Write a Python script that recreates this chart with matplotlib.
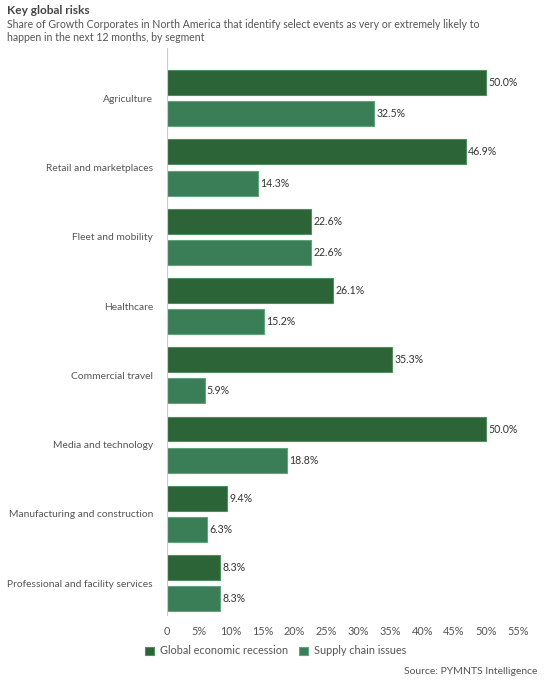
import matplotlib.pyplot as plt
import numpy as np

segments = ["Agriculture", "Retail and marketplaces", "Fleet and mobility", "Healthcare",
            "Commercial travel", "Media and technology", "Manufacturing and construction",
            "Professional and facility services"]
recession = [50.0, 46.9, 22.6, 26.1, 35.3, 50.0, 9.4, 8.3]
supply_chain = [32.5, 14.3, 22.6, 15.2, 5.9, 18.8, 6.3, 8.3]
tick_vals = [0, 5, 10, 15, 20, 25, 30, 35, 40, 45, 50, 55]
tick_labels = ["0"] + ["{}%".format(t) for t in tick_vals[1:]]

dark_green = "#2c6438"
light_green = "#3a7e58"

plt.rcParams['font.family'] = ['Lato', 'DejaVu Sans']

W, H = 552, 680
fig = plt.figure(figsize=(W / 100, H / 100), dpi=100)
fig.patch.set_facecolor("white")

# axes box in pixels: left 167, right 535, top 48, bottom 615
ax = fig.add_axes([167 / W, 1 - 615 / H, (535 - 167) / W, (615 - 48) / H])

y = np.arange(len(segments))
bh = 0.36
off = 0.225
b1 = ax.barh(y - off, recession, height=bh, color=dark_green, edgecolor="#4f8f5f", linewidth=0.8)
b2 = ax.barh(y + off, supply_chain, height=bh, color=light_green, edgecolor="#63a37c", linewidth=0.8)

for bars, vals in ((b1, recession), (b2, supply_chain)):
    for bar, v in zip(bars, vals):
        ax.annotate("{:.1f}%".format(v), (bar.get_width(), bar.get_y() + bar.get_height() / 2),
                    xytext=(1.5, 0), textcoords="offset points", va="center", ha="left",
                    fontsize=7.6, color="#333333")

ax.set_xlim(0, 57.7)
ax.set_ylim(len(segments) - 0.54, -0.725)
ax.set_xticks(tick_vals)
ax.set_xticklabels(tick_labels)
ax.set_yticks(y)
ax.set_yticklabels(segments)
ax.tick_params(axis="both", length=0, colors="#555555")
ax.tick_params(axis="y", pad=10, labelsize=7.4)
ax.tick_params(axis="x", pad=8, labelsize=7.8)
for s in ("top", "right", "bottom"):
    ax.spines[s].set_visible(False)
ax.spines["left"].set_color("#cccccc")
ax.spines["left"].set_linewidth(0.8)

fig.text(7 / W, 1 - 11 / H, "Key global risks", fontsize=8.6, fontweight="bold",
         color="#444444", va="center", ha="left")
fig.text(7 / W, 1 - 31 / H,
         "Share of Growth Corporates in North America that identify select events as very or extremely likely to\n"
         "happen in the next 12 months, by segment",
         fontsize=7.6, color="#555555", va="center", ha="left", linespacing=1.2)

leg = fig.legend([b1, b2], ["Global economic recession", "Supply chain issues"],
                 loc="center left", bbox_to_anchor=(145 / W, 1 - 651 / H), ncol=2, frameon=False,
                 fontsize=7.8, handlelength=0.8, handleheight=0.8, columnspacing=1.0,
                 handletextpad=0.6, borderaxespad=0, borderpad=0)
for t in leg.get_texts():
    t.set_color("#555555")

fig.text(537 / W, 1 - 671 / H, "Source: PYMNTS Intelligence", fontsize=7.5, color="#555555",
         va="center", ha="right")

fig.savefig("out.png", dpi=100)
